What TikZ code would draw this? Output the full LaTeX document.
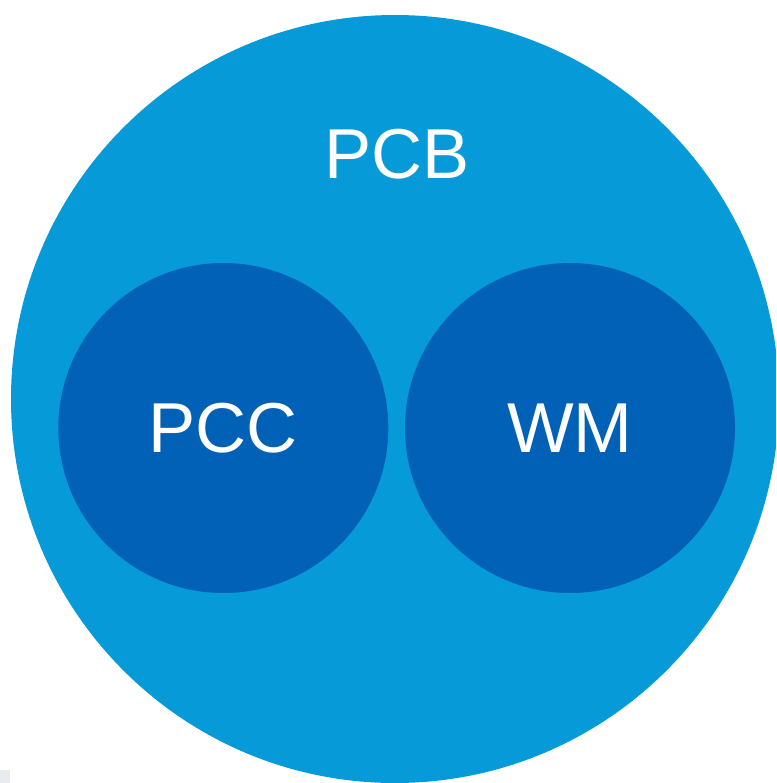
\documentclass[tikz,border=0pt]{standalone}
\usepackage{fontspec}
\setmainfont{Liberation Sans}
\usepackage{xcolor}
\definecolor{outerblue}{RGB}{6,154,216}
\definecolor{innerblue}{RGB}{0,97,183}
\definecolor{cornergray}{RGB}{232,236,240}
\usetikzlibrary{positioning}

\begin{document}
\begin{tikzpicture}[x=0.75pt,y=-0.75pt]
        \useasboundingbox (0,0) rectangle (776,783);
        \clip (0,0) rectangle (776,783);
        \fill[cornergray] (0,770) rectangle (10,783);
        \begin{scope}[every node/.style={circle,inner sep=0pt,text=white,font=\fontsize{53}{60}\selectfont}]
          \node[fill=outerblue,minimum size=576pt] (pcb) at (395,399) {};
          \node[anchor=base] (pcblabel) at (397,178.3) {PCB};
          \node[fill=innerblue,minimum size=247.5pt] (pcc) at (223.3,428) {PCC};
          \node[fill=innerblue,minimum size=247.5pt] (wm) at (570,428) {WM};
        \end{scope}
      \end{tikzpicture}
\end{document}
